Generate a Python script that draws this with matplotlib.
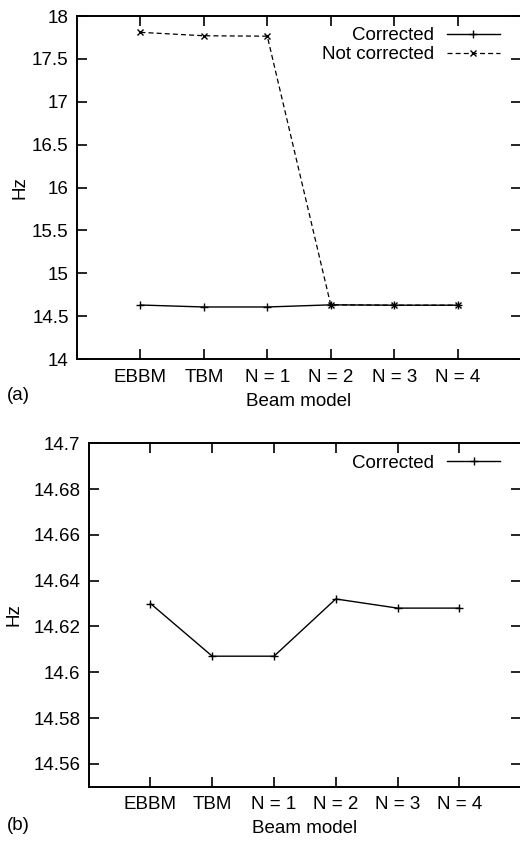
import matplotlib.pyplot as plt

models = ["EBBM", "TBM", "N = 1", "N = 2", "N = 3", "N = 4"]
corrected = [14.630, 14.607, 14.607, 14.632, 14.628, 14.628]
not_corrected = [17.81, 17.77, 17.765, 14.632, 14.628, 14.628]

yticks_a = [14, 14.5, 15, 15.5, 16, 16.5, 17, 17.5, 18]
yticks_b = [14.56, 14.58, 14.6, 14.62, 14.64, 14.66, 14.68, 14.7]

FS = 13.5
plt.rcParams["font.family"] = ["Liberation Sans", "DejaVu Sans"]
plt.rcParams["font.size"] = FS


def style_axes(ax, yticks, ylim):
    x = list(range(1, len(models) + 1))
    ax.set_xlim(0, len(models) + 1)
    ax.set_xticks(x)
    ax.set_xticklabels(models)
    ax.set_ylim(*ylim)
    ax.set_yticks(yticks)
    ax.set_yticklabels([f"{v:g}" for v in yticks])
    ax.tick_params(direction="in", length=7, width=1.2, top=True, right=True,
                   labelsize=FS, colors="black")
    ax.tick_params(axis="x", pad=7)
    ax.tick_params(axis="y", pad=6)
    for s in ax.spines.values():
        s.set_linewidth(1.4)
    ax.set_xlabel("Beam model", fontsize=FS, labelpad=5)
    ax.set_ylabel("Hz", fontsize=FS)


def add_legend(ax):
    ax.legend(loc="upper right", bbox_to_anchor=(0.977, 1.0), frameon=False, markerfirst=False,
              handlelength=2.8, handletextpad=0.7, labelspacing=0.1, borderaxespad=0.2,
              fontsize=FS)


fig = plt.figure(figsize=(5.2, 8.44), dpi=100)
fig.patch.set_facecolor("white")

# (a) both series
ax1 = fig.add_axes([0.148, 0.5746, 1.002 - 0.148, 0.981 - 0.5746])
x = list(range(1, len(models) + 1))
ax1.plot(x, corrected, color="black", lw=1.0, marker="+", ms=6, mew=1.0, label="Corrected")
ax1.plot(x, not_corrected, color="black", lw=0.9, ls=(0, (4, 2.5)), marker="x", ms=4.5,
         mew=1.0, label="Not corrected")
style_axes(ax1, yticks_a, (14, 18))
ax1.yaxis.set_label_coords(-0.11, 0.5)
add_legend(ax1)
fig.text(0.013, 1 - 395 / 844, "(a)", fontsize=FS, va="center")

# (b) corrected only
ax2 = fig.add_axes([0.1706, 0.0679, 1.002 - 0.1706, 0.4748 - 0.0679])
ax2.plot(x, corrected, color="black", lw=1.0, marker="+", ms=6, mew=1.0, label="Corrected")
style_axes(ax2, yticks_b, (14.55, 14.7))
ax2.yaxis.set_label_coords(-0.154, 0.5)
add_legend(ax2)
fig.text(0.013, 1 - 826 / 844, "(b)", fontsize=FS, va="center")

fig.savefig("out.png", dpi=100, facecolor="white")
plt.close(fig)
